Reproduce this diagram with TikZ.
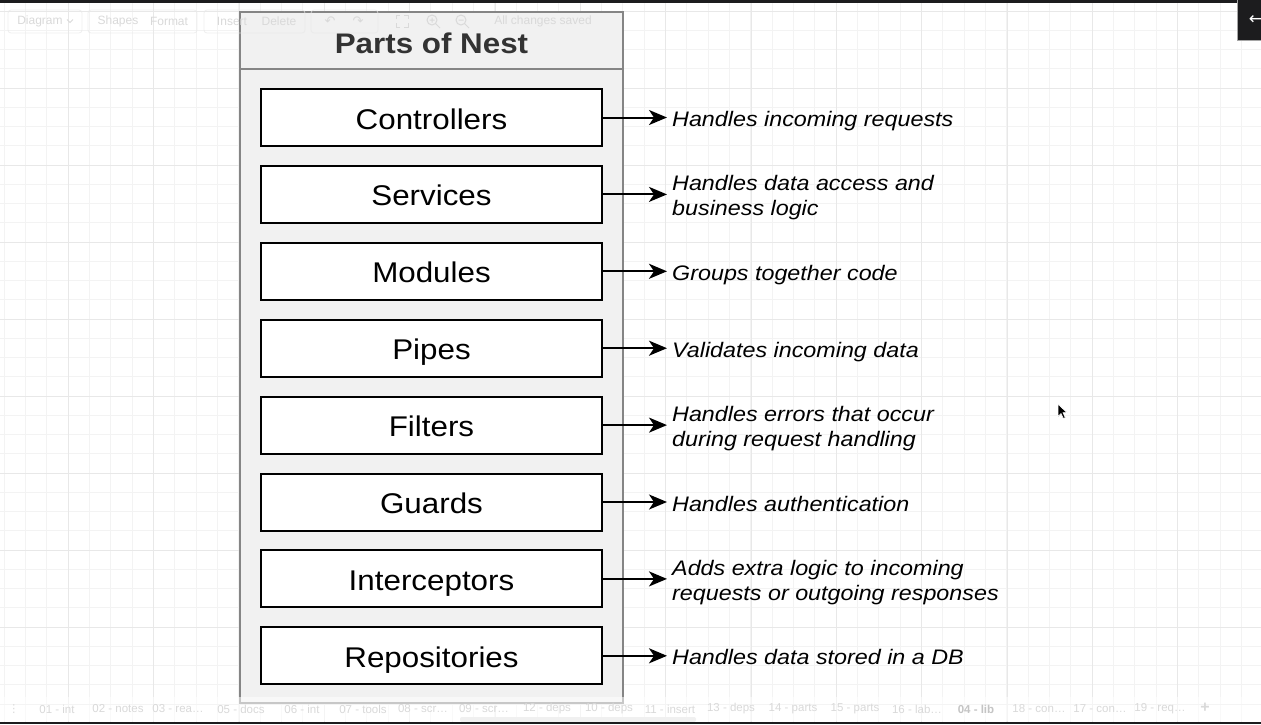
\documentclass[tikz,border=0pt]{standalone}
\usepackage{fontspec}
\setmainfont{Liberation Sans}
\newfontfamily\symfont{DejaVu Sans}
\usetikzlibrary{arrows.meta}
\definecolor{gridminor}{HTML}{F3F3F3}
\definecolor{gridmajor}{HTML}{E8E8E8}
\definecolor{panel}{HTML}{F1F1F1}
\definecolor{panelline}{HTML}{858585}
\definecolor{titlegray}{HTML}{333333}
\definecolor{uitext}{HTML}{D9D9D9}
\definecolor{uitextdark}{HTML}{C4C4C4}
\definecolor{darkbar}{HTML}{1C1C1E}
\newcommand\sx[1]{\scalebox{1.1}[1]{#1}}
\newcommand\dsc[1]{\scalebox{1.11}[1]{\begin{tabular}{@{}l@{}}#1\end{tabular}}}
\begin{document}
\begin{tikzpicture}[x=1pt,y=-1pt,
  partbox/.style={draw=black, line width=2pt, fill=white, minimum width=341pt,
    minimum height=57pt, inner sep=0pt, text height=23pt, text depth=0pt,
    font=\fontsize{28.5}{34}\selectfont},
  desc/.style={anchor=west, inner sep=0pt, font=\fontsize{21}{25}\selectfont\itshape},
  link/.style={line width=2pt, -{Stealth[length=18pt, width=15pt, inset=5pt]}, shorten >=5pt},
  uilabel/.style={text=uitext, font=\fontsize{12}{14}\selectfont, inner sep=0pt},
  tablabel/.style={text=uitext, font=\fontsize{11.5}{13}\selectfont, inner sep=0pt},
]
\useasboundingbox (0,0) rectangle (1261,724);
\fill[white] (0,0) rectangle (1261,724);
% grid
\foreach \i in {0,...,59} \draw[gridminor, line width=1pt] ({4.33+21.333*\i},0) -- ({4.33+21.333*\i},724);
\foreach \i in {0,...,37} \draw[gridminor, line width=1pt] (0,{11+19.25*\i}) -- (1261,{11+19.25*\i});
\foreach \i in {0,...,15} \draw[gridmajor, line width=1pt] ({-17+85.333*\i},0) -- ({-17+85.333*\i},724);
\foreach \i in {0,...,9} \draw[gridmajor, line width=1pt] (0,{11+77*\i}) -- (1261,{11+77*\i});

% container
\node[draw=panelline, line width=2pt, fill=panel, minimum width=383pt, minimum height=691pt, inner sep=0pt] (nest) at (431.5,357.5) {};
\draw[panelline, line width=2pt] (nest.west |- 0,69) -- (nest.east |- 0,69);
\node[anchor=base, text=titlegray, inner sep=0pt, font=\fontsize{28.5}{34}\selectfont\bfseries] (title) at (431.5,53) {\sx{Parts of Nest}};

% boxes
\node[partbox] (b1) at (431.5,117.5) {\sx{Controllers}};
\node[partbox] (b2) at (431.5,194.4) {\sx{Services}};
\node[partbox] (b3) at (431.5,271.3) {\sx{Modules}};
\node[partbox] (b4) at (431.5,348.2) {\sx{Pipes}};
\node[partbox] (b5) at (431.5,425.1) {\sx{Filters}};
\node[partbox] (b6) at (431.5,502.0) {\sx{Guards}};
\node[partbox] (b7) at (431.5,578.9) {\sx{Interceptors}};
\node[partbox] (b8) at (431.5,655.8) {\sx{Repositories}};

% descriptions
\node[desc] (d1) at (672,121.5) {\dsc{Handles incoming requests}};
\node[desc] (d2) at (672,198.4) {\dsc{Handles data access and\\business logic}};
\node[desc] (d3) at (672,275.3) {\dsc{Groups together code}};
\node[desc] (d4) at (672,352.2) {\dsc{Validates incoming data}};
\node[desc] (d5) at (672,429.1) {\dsc{Handles errors that occur\\during request handling}};
\node[desc] (d6) at (672,506.0) {\dsc{Handles authentication}};
\node[desc] (d7) at (672,582.9) {\dsc{Adds extra logic to incoming\\requests or outgoing responses}};
\node[desc] (d8) at (672,659.8) {\dsc{Handles data stored in a DB}};

\foreach \k in {1,...,8} \draw[link] (b\k.east) -- (b\k.east -| d\k.west);

% cursor
\filldraw[fill=black, draw=white, line width=0.6pt] (1058,404) -- (1058,416.5) -- (1061,413.5) -- (1063.3,418.5) -- (1065.3,417.6) -- (1063,412.7) -- (1067,412.7) -- cycle;

% faint toolbar overlay
\begin{scope}[opacity=0.7]
\draw[uitext!60, line width=0.8pt, rounded corners=3pt] (8,10) rectangle (82,33);
\draw[uitext!60, line width=0.8pt, rounded corners=3pt] (88,10) rectangle (197,33);
\draw[uitext!60, line width=0.8pt, rounded corners=3pt] (204,10) rectangle (305,33);
\draw[uitext!60, line width=0.8pt, rounded corners=3pt] (311,10) rectangle (378,33);
\end{scope}
\node[uilabel] (tDiagram) at (40,21) {Diagram};
\draw[uitext, line width=0.8pt] (67,19.5) -- (70,22.5) -- (73,19.5);
\node[uilabel] (tShapes) at (118,21) {Shapes};
\node[uilabel] (tFormat) at (169,21) {Format};
\node[uilabel] (tInsert) at (232,21) {Insert};
\node[uilabel] (tDelete) at (279,21) {Delete};
\node[uilabel, font=\symfont\fontsize{13}{14}\selectfont] (tUndo) at (330,21) {↶};
\node[uilabel, font=\symfont\fontsize{13}{14}\selectfont] (tRedo) at (358,21) {↷};
\draw[uitext, line width=1pt] (396,19) -- (396,15) -- (400,15) (404,15) -- (408,15) -- (408,19) (408,23) -- (408,27) -- (404,27) (400,27) -- (396,27) -- (396,23);
\draw[uitext, line width=1pt] (432,20) circle (5pt) (435.5,23.5) -- (440,28) (429.5,20) -- (434.5,20) (432,17.5) -- (432,22.5);
\draw[uitext, line width=1pt] (461,20) circle (5pt) (464.5,23.5) -- (469,28) (458.5,20) -- (463.5,20);
\node[uilabel] (tSaved) at (543,21) {All changes saved};

% top bar and corner button
\fill[darkbar] (0,0) rectangle (1261,3);
\fill[darkbar] (1237,0) rectangle (1261,40);
\draw[gray!70, line width=0.8pt] (1237,0) -- (1237,40) -- (1261,40);
\node[text=white, inner sep=0pt, font=\symfont\fontsize{17}{17}\selectfont] (back) at (1256,20) {←};

% bottom tabs
\fill[white, opacity=0.55] (0,697) rectangle (1261,721);
\node[tablabel, font=\symfont\fontsize{11}{12}\selectfont] (tabdots) at (14,709) {⋮};
\node[tablabel] (tab1) at (57,709) {01 - int};
\node[tablabel] (tab2) at (118,709) {02 - notes};
\node[tablabel] (tab3) at (178,709) {03 - rea…};
\node[tablabel] (tab4) at (241,709) {05 - docs};
\node[tablabel] (tab5) at (302,709) {06 - int};
\node[tablabel] (tab6) at (363,709) {07 - tools};
\node[tablabel] (tab7) at (423,709) {08 - scr…};
\node[tablabel] (tab8) at (484,709) {09 - scr…};
\node[tablabel] (tab9) at (547,709) {12 - deps};
\node[tablabel] (tab10) at (609,709) {10 - deps};
\node[tablabel] (tab11) at (670,709) {11 - insert};
\node[tablabel] (tab12) at (731,709) {13 - deps};
\node[tablabel] (tab13) at (793,709) {14 - parts};
\node[tablabel] (tab14) at (855,709) {15 - parts};
\node[tablabel] (tab15) at (917,709) {16 - lab…};
\node[tablabel, text=uitextdark, font=\fontsize{11.5}{13}\selectfont\bfseries] (tab16) at (976,709) {04 - lib};
\node[tablabel] (tab17) at (1039,709) {18 - con…};
\node[tablabel] (tab18) at (1100,709) {17 - con…};
\node[tablabel] (tab19) at (1160,709) {19 - req…};
\node[tablabel, font=\fontsize{16}{16}\selectfont\bfseries] (tabplus) at (1205,708) {+};
\fill[gray!12, rounded corners=2pt] (460,717) rectangle (696,722);
\fill[darkbar] (0,721.5) rectangle (1261,724);
\end{tikzpicture}
\end{document}
